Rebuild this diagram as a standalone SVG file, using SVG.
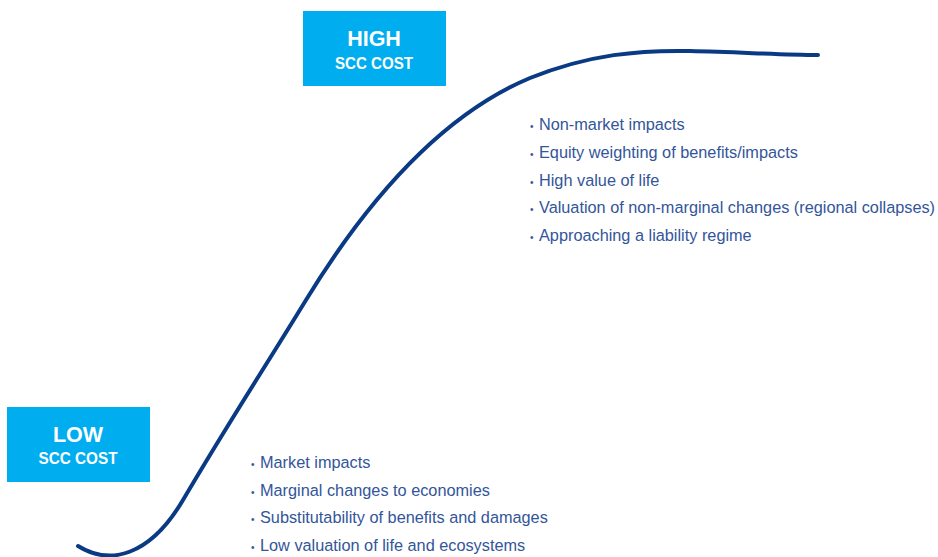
<svg xmlns="http://www.w3.org/2000/svg" width="938" height="557" viewBox="0 0 938 557">
  <style>
    .box { fill: #00adef; }
    .big { font-family: "Liberation Sans", Arial, sans-serif; font-weight: bold; font-size: 21.5px; fill: #ffffff; text-anchor: middle; }
    .sub { font-family: "Liberation Sans", Arial, sans-serif; font-weight: bold; font-size: 16.5px; fill: #ffffff; text-anchor: middle; }
    .item { font-family: "Liberation Sans", Arial, sans-serif; font-size: 16.3px; fill: #33559a; }
    .dot { font-size: 10px; }
    .curve { fill: none; stroke: #0b3a84; stroke-width: 4; stroke-linecap: round; }
  </style>

  <!-- cost curve -->
  <g id="connectors">
    <path class="curve" d="M78,546 C110,566 150,556 183,500 C230,420 262,372 306,300 C355,220 430,120 530,78 C590,54 640,50 690,51 C740,52 780,55 818,55"/>
  </g>

  <!-- high-cost label -->
  <g id="high">
    <rect class="box" x="303" y="11" width="143" height="75"/>
    <text class="big" x="374" y="46">HIGH</text>
    <text class="sub" x="374" y="69" textLength="78" lengthAdjust="spacingAndGlyphs">SCC COST</text>
  </g>

  <!-- low-cost label -->
  <g id="low">
    <rect class="box" x="7" y="407" width="143" height="75"/>
    <text class="big" x="78" y="442">LOW</text>
    <text class="sub" x="78" y="464" textLength="79" lengthAdjust="spacingAndGlyphs">SCC COST</text>
  </g>

  <!-- high-cost factors -->
  <g id="high-factors" class="item">
    <text x="530" y="130"><tspan class="dot">•</tspan><tspan x="539">Non-market impacts</tspan></text>
    <text x="530" y="158"><tspan class="dot">•</tspan><tspan x="539">Equity weighting of benefits/impacts</tspan></text>
    <text x="530" y="186"><tspan class="dot">•</tspan><tspan x="539">High value of life</tspan></text>
    <text x="530" y="213"><tspan class="dot">•</tspan><tspan x="539" textLength="396" lengthAdjust="spacingAndGlyphs">Valuation of non-marginal changes (regional collapses)</tspan></text>
    <text x="530" y="241"><tspan class="dot">•</tspan><tspan x="539">Approaching a liability regime</tspan></text>
  </g>

  <!-- low-cost factors -->
  <g id="low-factors" class="item">
    <text x="251" y="468"><tspan class="dot">•</tspan><tspan x="260">Market impacts</tspan></text>
    <text x="251" y="496"><tspan class="dot">•</tspan><tspan x="260">Marginal changes to economies</tspan></text>
    <text x="251" y="523"><tspan class="dot">•</tspan><tspan x="260">Substitutability of benefits and damages</tspan></text>
    <text x="251" y="551"><tspan class="dot">•</tspan><tspan x="260">Low valuation of life and ecosystems</tspan></text>
  </g>
</svg>
